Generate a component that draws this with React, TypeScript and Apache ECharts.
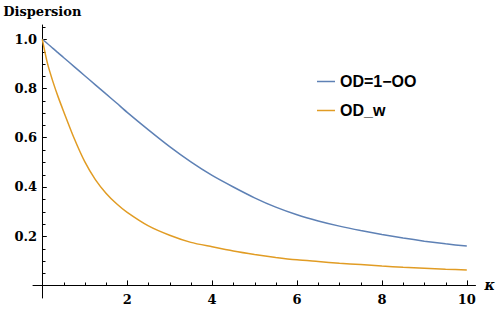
import React, { useEffect, useRef } from "react";
import * as echarts from "echarts";

const kappa = [0, 0.125, 0.25, 0.375, 0.5, 0.75, 1, 1.25, 1.5, 1.75, 2, 2.5, 3, 3.5, 4, 4.5, 5, 5.5, 6, 6.5, 7, 7.5, 8, 8.5, 9, 9.5, 10];
const odOneMinusOO = [1.0, 0.982, 0.963, 0.945, 0.926, 0.889, 0.852, 0.815, 0.778, 0.741, 0.703, 0.632, 0.564, 0.502, 0.447, 0.4, 0.356, 0.318, 0.287, 0.262, 0.241, 0.223, 0.207, 0.193, 0.18, 0.169, 0.16];
const odW = [1.0, 0.9, 0.828, 0.765, 0.708, 0.598, 0.503, 0.43, 0.375, 0.332, 0.297, 0.242, 0.204, 0.175, 0.157, 0.14, 0.126, 0.114, 0.104, 0.097, 0.09, 0.085, 0.079, 0.074, 0.07, 0.066, 0.063];
const seriesNames = ["OD=1\u2212OO", "OD_w"];
const seriesColors = ["#5E81B5", "#E19C24"];
const xMajorTicks = [2, 4, 6, 8, 10];
const xMinorTicks = [0.5, 1, 1.5, 2.5, 3, 3.5, 4.5, 5, 5.5, 6.5, 7, 7.5, 8.5, 9, 9.5];
const yMajorTicks = [0.2, 0.4, 0.6, 0.8, 1.0];
const yMinorTicks = [0.05, 0.1, 0.15, 0.25, 0.3, 0.35, 0.45, 0.5, 0.55, 0.65, 0.7, 0.75, 0.85, 0.9, 0.95, 1.05];

const X_MIN = -0.219;
const X_MAX = 10.205;
const Y_MIN = -0.051;
const Y_MAX = 1.058;

const serifFont = "DejaVu Serif";
const MINOR_LEN = 3;

export default function App() {
  const ref = useRef<HTMLDivElement>(null);
  useEffect(() => {
    if (!ref.current) return;
    const chart = echarts.init(ref.current, undefined, { renderer: "svg" });
    const labelStyle = {
      fontFamily: serifFont,
      fontWeight: "bold" as const,
      fontSize: 13,
      color: "#000",
    };
    const tickStyle = { stroke: "#000", lineWidth: 1 };
    chart.setOption({
      animation: false,
      backgroundColor: "#fff",
      grid: { left: 33, right: 22, top: 25, bottom: 16, containLabel: false },
      legend: {
        orient: "vertical",
        left: 312,
        top: 68,
        itemWidth: 18,
        itemHeight: 1.5,
        itemGap: 12,
        itemTextGap: 11,
        textStyle: {
          fontFamily: "Liberation Sans",
          fontSize: 16,
          fontWeight: "bold",
          color: "#000",
          lineHeight: 17,
        },
        data: seriesNames.map((n) => ({ name: n, icon: "rect" })),
      },
      xAxis: {
        type: "value",
        min: X_MIN,
        max: X_MAX,
        axisLine: { show: true, onZero: true, lineStyle: { color: "#000", width: 1 } },
        axisTick: { show: true, inside: true, length: 5, customValues: xMajorTicks, lineStyle: { color: "#000", width: 1 } },
        axisLabel: { show: true, customValues: xMajorTicks, margin: -5, ...labelStyle, formatter: (v: number) => String(Math.round(v)) },
        splitLine: { show: false },
        name: "\u03BA",
        nameLocation: "end",
        nameGap: 9,
        nameMoveOverlap: false,
        nameTextStyle: { fontFamily: serifFont, fontWeight: "bold", fontStyle: "italic", fontSize: 14, color: "#000" },
      },
      yAxis: {
        type: "value",
        min: Y_MIN,
        max: Y_MAX,
        axisLine: { show: true, onZero: true, lineStyle: { color: "#000", width: 1 } },
        axisTick: { show: true, inside: true, length: 4.5, customValues: yMajorTicks, lineStyle: { color: "#000", width: 1 } },
        axisLabel: { show: true, customValues: yMajorTicks, margin: -4, ...labelStyle, formatter: (v: number) => v.toFixed(1) },
        splitLine: { show: false },
        name: "Dispersion",
        nameLocation: "end",
        nameGap: 7,
        nameMoveOverlap: false,
        nameTextStyle: { ...labelStyle },
      },
      series: [
        ...[odOneMinusOO, odW].map((vals, i) => ({
          name: seriesNames[i],
          type: "line",
          showSymbol: false,
          symbol: "none",
          smooth: 0.25,
          itemStyle: { color: seriesColors[i] },
          lineStyle: { color: seriesColors[i], width: 1.5 },
          data: kappa.map((k, j) => [k, vals[j]]),
          z: 3,
        })),
        {
          name: "xMinor",
          type: "custom",
          silent: true,
          clip: false,
          data: xMinorTicks.map((v) => [v, 0]),
          renderItem: (_p: any, api: any) => {
            const p = api.coord([api.value(0), api.value(1)]);
            const x = Math.round(p[0]) + 0.5;
            const y = Math.round(p[1]) + 0.5;
            return { type: "line", shape: { x1: x, y1: y, x2: x, y2: y - MINOR_LEN }, style: tickStyle };
          },
          z: 1,
        },
        {
          name: "yMinor",
          type: "custom",
          silent: true,
          clip: false,
          data: yMinorTicks.map((v) => [0, v]),
          renderItem: (_p: any, api: any) => {
            const p = api.coord([api.value(0), api.value(1)]);
            const x = Math.round(p[0]) + 0.5;
            const y = Math.round(p[1]) + 0.5;
            return { type: "line", shape: { x1: x, y1: y, x2: x + MINOR_LEN, y2: y }, style: tickStyle };
          },
          z: 1,
        },
      ],
    });
    return () => chart.dispose();
  }, []);
  return (
    <div
      ref={ref}
      style={{ position: "absolute", left: 0, top: 0, width: 498, height: 314, background: "#fff" }}
    />
  );
}
